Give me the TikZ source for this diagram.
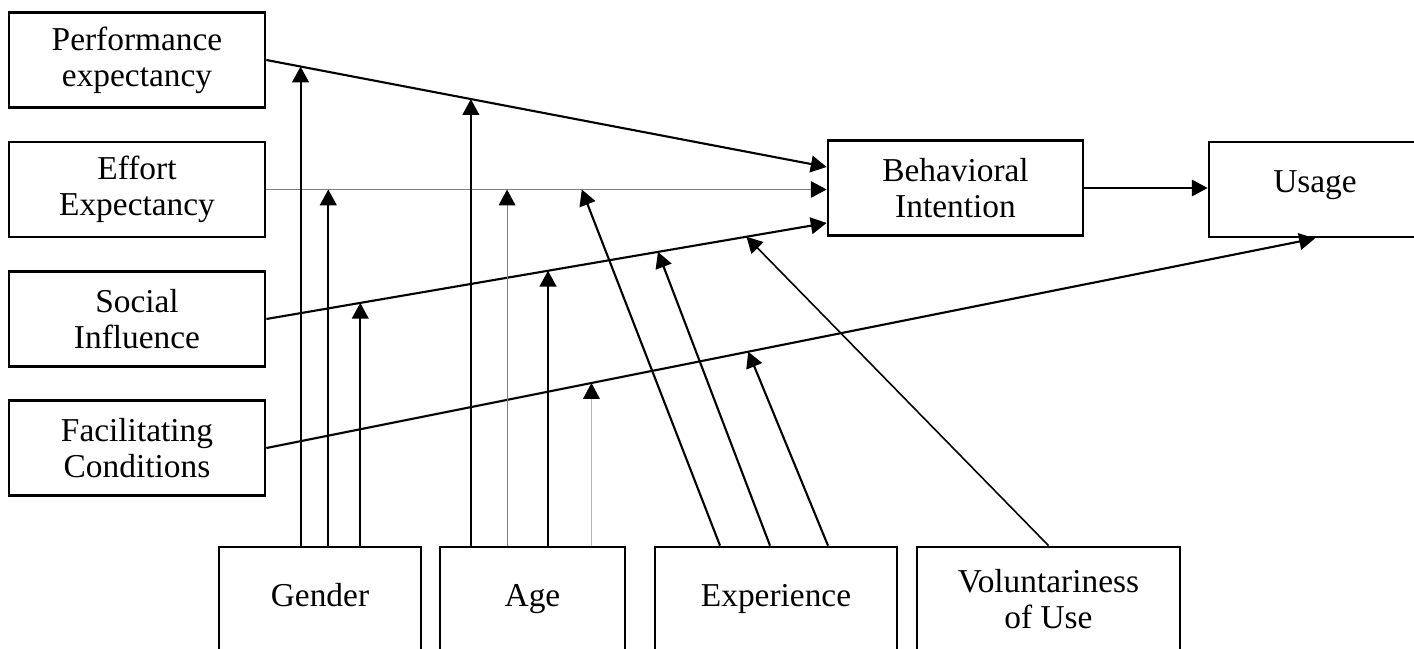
\documentclass[tikz,border=0pt]{standalone}
\usepackage{fontspec}
\setmainfont{Liberation Serif}
\usepackage{tikz}
\usetikzlibrary{arrows.meta,calc}
\tikzset{
  factor/.style={draw, line width=1.6pt, inner sep=0pt, align=center,
    minimum width=5.12cm, minimum height=1.9cm, font=\fontsize{19}{20.5}\selectfont},
  moderator/.style={factor, minimum height=2.1cm},
  oneline/.style={text height=1.05em, text depth=0.22em},
  link/.style={line width=1.2pt, -{Triangle[length=9pt,width=9.5pt]}},
  thinlink/.style={line width=#1, draw=gray, -{Triangle[length=9pt,width=9.5pt,color=black]}},
  thinlink/.default=0.6pt
}

\begin{document}
\begin{tikzpicture}[x=0.02cm,y=-0.02cm]
\useasboundingbox (0,0) rectangle (1414,649);

\node[factor] (pe) at (137,60) {Performance\\expectancy};
\node[factor] (ee) at (137,189.5) {Effort\\Expectancy};
\node[factor] (si) at (137,319) {Social\\Influence};
\node[factor] (fc) at (137,448) {Facilitating\\Conditions};
\node[factor, minimum width=5.1cm] (bi) at (955.5,188) {Behavioral\\Intention};
\node[factor, minimum width=4.24cm, text depth=0.3cm] (us) at (1315,189.5) {Usage};
\node[moderator, oneline, minimum width=4.04cm] (ge) at (320,599.5) {Gender};
\node[moderator, oneline, minimum width=3.7cm] (ag) at (532.5,599.5) {Age};
\node[moderator, oneline, minimum width=4.84cm] (ex) at (776,599.5) {Experience};
\node[moderator, minimum width=5.26cm] (vo) at (1048.5,599.5) {Voluntariness\\of Use};

\draw[link] (pe.east) -- coordinate[pos=0.061] (pe-g) coordinate[pos=0.365] (pe-a) ([yshift=0.42cm]bi.west);
\draw[thinlink] (ee.east) -- coordinate[pos=0.1105] (ee-g) coordinate[pos=0.4296] (ee-a) coordinate[pos=0.563] (ee-x) (ee.east -| bi.west);
\draw[link] (si.east) -- coordinate[pos=0.1676] (si-g) coordinate[pos=0.5027] (si-a) coordinate[pos=0.699] (si-x) coordinate[pos=0.857] (si-v) ([yshift=-0.7cm]bi.west);
\draw[link] (fc.east) -- coordinate[pos=0.31] (fc-a) coordinate[pos=0.4595] (fc-x) (us.south);
\draw[link, line width=0.7pt] (bi.east) -- (bi.east -| us.west);

\draw[link] (pe-g |- ge.north) -- (pe-g);
\draw[link] (ee-g |- ge.north) -- (ee-g);
\draw[link] (si-g |- ge.north) -- (si-g);

\draw[link, line width=0.8pt] (pe-a |- ag.north) -- (pe-a);
\draw[thinlink] (ee-a |- ag.north) -- (ee-a);
\draw[link, line width=1.3pt] (si-a |- ag.north) -- (si-a);
\draw[thinlink=0.5pt, draw=gray!60] (fc-a |- ag.north) -- (fc-a);

\draw[link] ([xshift=-1.12cm]ex.north) -- (ee-x);
\draw[link] ([xshift=-0.12cm]ex.north) -- (si-x);
\draw[link] ([xshift=1.04cm]ex.north) -- (fc-x);

\draw[link, line width=0.9pt] (vo.north) -- (si-v);
\end{tikzpicture}
\end{document}
